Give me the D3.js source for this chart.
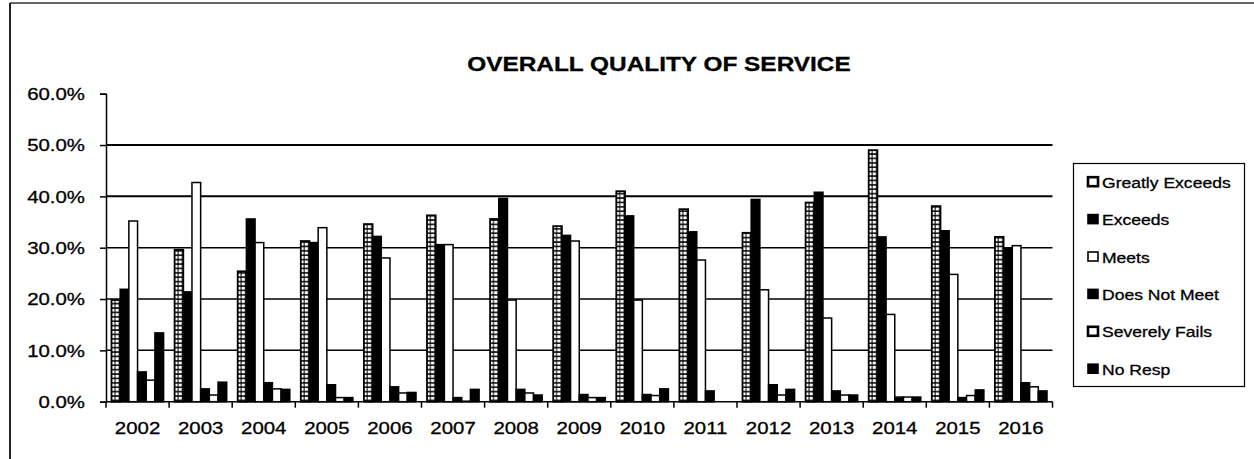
<!DOCTYPE html>
<html>
<head>
<meta charset="utf-8">
<script src="https://cdn.jsdelivr.net/npm/d3@7"></script>
<style>
  html, body { margin: 0; padding: 0; background: #fff; }
  svg { display: block; }
  text { font-family: "Liberation Sans", Arial, sans-serif; fill: #000; stroke: #000; stroke-width: 0.3; }
</style>
</head>
<body>
<svg id="chart" width="1254" height="459"></svg>
<script>
// Survey results by year (percent of responses)
const years = ["2002","2003","2004","2005","2006","2007","2008","2009","2010","2011","2012","2013","2014","2015","2016"];
const seriesNames = ["Greatly Exceeds","Exceeds","Meets","Does Not Meet","Severely Fails","No Resp"];
const greatlyExceeds = [19.8, 29.6, 25.4, 31.3, 34.6, 36.3, 35.6, 34.2, 41.0, 37.5, 32.9, 38.8, 49.0, 38.1, 32.1];
const exceeds        = [21.9, 21.4, 35.6, 31.0, 32.2, 30.6, 39.6, 32.4, 36.2, 33.1, 39.4, 40.8, 32.1, 33.3, 29.8];
const meets          = [35.2, 42.7, 31.0, 33.9, 28.0, 30.6, 19.8, 31.3, 19.8, 27.6, 21.8, 16.3, 17.0, 24.8, 30.4];
const doesNotMeet    = [5.8, 2.5, 3.7, 3.3, 2.9, 0.8, 2.4, 1.4, 1.4, 2.1, 3.3, 2.1, 0.9, 0.8, 3.7];
const severelyFails  = [4.2, 1.3, 2.5, 0.8, 1.7, 0.1, 1.7, 0.8, 1.2, 0.0, 1.3, 1.3, 0.9, 1.2, 2.9];
const noResp         = [13.4, 3.8, 2.4, 0.8, 1.8, 2.4, 1.3, 0.8, 2.5, 0.0, 2.4, 1.3, 0.9, 2.3, 2.1];
const yTicks = [0, 10, 20, 30, 40, 50, 60];

const seriesValues = [greatlyExceeds, exceeds, meets, doesNotMeet, severelyFails, noResp];
const fills = ["url(#ge)", "#000", "#fff", "#000", "#fff", "#000"];

const svg = d3.select("#chart");
const SX = 1.2; // glyphs are drawn slightly wide

// frame
svg.append("line").attr("x1", 10).attr("x2", 1254).attr("y1", 3).attr("y2", 3)
  .attr("stroke", "#333").attr("stroke-width", 1.5);
svg.append("line").attr("x1", 10).attr("x2", 10).attr("y1", 3).attr("y2", 459)
  .attr("stroke", "#222").attr("stroke-width", 2);

// fill pattern for the first series: stacked small white cells on black
const defs = svg.append("defs");
const pat = defs.append("pattern").attr("id", "ge").attr("patternUnits", "userSpaceOnUse")
  .attr("width", 4.4).attr("height", 4.4);
pat.append("rect").attr("width", 4.4).attr("height", 4.4).attr("fill", "#000");
pat.append("rect").attr("x", 0.6).attr("y", 0.8).attr("width", 3.4).attr("height", 2.9).attr("fill", "#fff");

const plot = { left: 106, right: 1052.5, top: 93.7, bottom: 401.7 };

const x0 = d3.scaleBand().domain(years).range([plot.left, plot.right]).padding(0);
const x1 = d3.scaleBand().domain(d3.range(6))
  .range([5.5, x0.bandwidth() - 5.5]).padding(0);
const y = d3.scaleLinear().domain([0, 60]).range([plot.bottom, plot.top]);

// gridlines
svg.append("g").selectAll("line").data(yTicks.filter(t => t > 0 && t < 60)).join("line")
  .attr("x1", plot.left).attr("x2", plot.right)
  .attr("y1", d => y(d)).attr("y2", d => y(d))
  .attr("stroke", "#000").attr("stroke-width", d => d >= 40 ? 2 : 1.5);

// bars
const groups = svg.append("g").selectAll("g").data(years).join("g")
  .attr("transform", d => `translate(${x0(d)},0)`);
groups.selectAll("rect")
  .data((yr, i) => seriesValues.map((vals, s) => ({ s, v: vals[i] })))
  .join("rect")
  .attr("x", d => x1(d.s))
  .attr("width", x1.bandwidth())
  .attr("y", d => y(d.v))
  .attr("height", d => y(0) - y(d.v))
  .attr("fill", d => fills[d.s])
  .attr("stroke", "#000")
  .attr("stroke-width", d => d.v > 0 ? (d.s === 0 ? 1.8 : 1.5) : 0);

// y axis
const yAxis = svg.append("g").attr("transform", `translate(${plot.left},0)`)
  .call(d3.axisLeft(y).tickValues(yTicks).tickSize(6).tickFormat(""));
yAxis.selectAll("path, line").attr("stroke", "#000").attr("stroke-width", 1.5);
svg.append("g").selectAll("text").data(yTicks).join("text")
  .attr("transform", d => `translate(85,${y(d) + 6.3}) scale(${SX},1)`)
  .attr("text-anchor", "end").attr("font-size", 17)
  .text(d => d.toFixed(1) + "%");

// x axis with ticks at category boundaries
const xAxis = svg.append("g").attr("transform", `translate(0,${plot.bottom})`);
xAxis.append("line").attr("x1", plot.left).attr("x2", plot.right)
  .attr("stroke", "#000").attr("stroke-width", 1.5);
xAxis.selectAll("line.tick").data(years.concat(["end"])).join("line")
  .attr("class", "tick")
  .attr("x1", (d, i) => plot.left + i * x0.step())
  .attr("x2", (d, i) => plot.left + i * x0.step())
  .attr("y1", 0).attr("y2", 6).attr("stroke", "#000").attr("stroke-width", 1.5);
svg.append("g").selectAll("text").data(years).join("text")
  .attr("transform", d => `translate(${x0(d) + x0.bandwidth() / 2},433.5) scale(${SX},1)`)
  .attr("text-anchor", "middle").attr("font-size", 17)
  .text(d => d);

// title
svg.append("text")
  .attr("transform", `translate(659,71) scale(1.22,1)`)
  .attr("text-anchor", "middle").attr("font-size", 20).attr("font-weight", "bold")
  .text("OVERALL QUALITY OF SERVICE");

// legend
const legend = svg.append("g");
legend.append("rect").attr("x", 1073.5).attr("y", 163.5).attr("width", 171).attr("height", 223)
  .attr("fill", "#fff").attr("stroke", "#000").attr("stroke-width", 1.2);
const rowY = d3.scaleLinear().domain([0, 5]).range([181.7, 368.7]);
const items = legend.selectAll("g").data(seriesNames).join("g")
  .attr("transform", (d, i) => `translate(0,${rowY(i)})`);
items.append("rect")
  .attr("x", 1088).attr("y", -4.5).attr("width", 10).attr("height", 9)
  .attr("fill", (d, i) => i === 0 ? "#fff" : fills[i])
  .attr("stroke", "#000").attr("stroke-width", (d, i) => i === 0 || i === 4 ? 2.6 : 1.6);
items.append("text")
  .attr("transform", `translate(1102,6) scale(1.17,1)`)
  .attr("font-size", 15)
  .text(d => d);
</script>
</body>
</html>
